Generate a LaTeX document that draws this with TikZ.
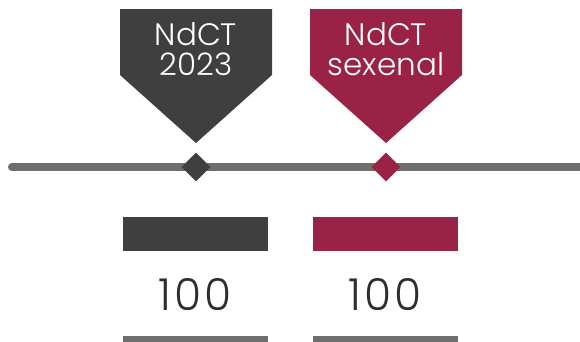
\documentclass[tikz,border=0pt]{standalone}
\usepackage{fontspec}
\setmainfont{Poppins}[UprightFont=* Light]
\newfontfamily\valfont{Poppins}[UprightFont=* Light, LetterSpace=6]
\usetikzlibrary{shapes.geometric}
\definecolor{dk}{HTML}{3F3F3F}
\definecolor{wine}{HTML}{9B2247}
\definecolor{ln}{HTML}{6E6E6E}
\definecolor{num}{HTML}{2E2E2E}
\begin{document}
\begin{tikzpicture}[x=1pt,y=-1pt,
  tag/.style={anchor=base, text=white, font=\fontsize{31}{31}\selectfont, inner sep=0pt},
  marker/.style={diamond, minimum size=29pt, inner sep=0pt},
  val/.style={anchor=base, text=num, font=\valfont\fontsize{44}{44}\selectfont, inner sep=0pt}]
\useasboundingbox (0,0) rectangle (580,341);
\coordinate (ls) at (12,167);
\coordinate (le) at (590,167);
\draw[ln, line width=8pt, line cap=round] (ls) -- (le);
\fill[dk] (120,9) -- (272,9) -- (272,75) -- (196,143) -- (120,75) -- cycle;
\fill[wine] (310,9) -- (462,9) -- (462,75) -- (386,143) -- (310,75) -- cycle;
\node[marker, fill=dk] (d1) at (196,167) {};
\node[marker, fill=wine] (d2) at (386,167) {};
\node[tag] (t1a) at (196,45) {NdCT};
\node[tag] (t1b) at (196,75) {2023};
\node[tag] (t2a) at (386,45) {NdCT};
\node[tag] (t2b) at (386,75) {sexenal};
\fill[dk] (123,217) rectangle (268,251);
\fill[wine] (313,217) rectangle (458,251);
\node[val] (v1) at (195,310) {100};
\node[val] (v2) at (385,310) {100};
\fill[ln] (123,336) rectangle (268,345);
\fill[ln] (313,336) rectangle (458,345);
\end{tikzpicture}
\end{document}
